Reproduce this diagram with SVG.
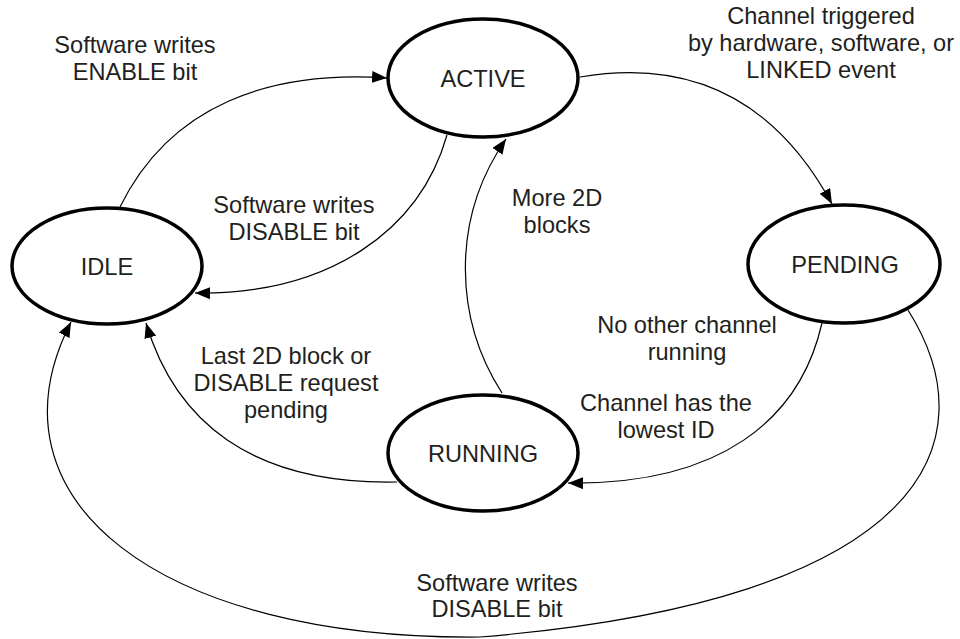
<svg xmlns="http://www.w3.org/2000/svg" width="960" height="639" viewBox="0 0 960 639">
<style>
.node ellipse{fill:#fff;stroke:#000;stroke-width:3.5}
text{font-family:"Liberation Sans",Arial,sans-serif;font-size:23.6px;fill:#231f20;text-anchor:middle}
.edge{fill:none;stroke:#000;stroke-width:1.2;marker-end:url(#arr)}
</style>
<defs>
<marker id="arr" markerUnits="userSpaceOnUse" markerWidth="16" markerHeight="12" refX="15" refY="6" orient="auto" viewBox="0 0 16 12">
<path d="M0,0 L15,6 L0,12 z" fill="#000"/>
</marker>
</defs>
<rect width="960" height="639" fill="#fff"/>
<g id="connectors">
<path class="edge" d="M120,207 C170,105 270,70 387,78"/>
<path class="edge" d="M447,135 C420,230 330,295 195,293"/>
<path class="edge" d="M580,77 C680,60 770,90 832,204"/>
<path class="edge" d="M502,393 C455,320 450,220 506,139"/>
<path class="edge" d="M397,482 C250,485 175,420 146,323"/>
<path class="edge" d="M822,323 C800,420 720,485 568,483"/>
<path class="edge" d="M908,310 C990,440 930,600 480,637 C160,640 -20,500 71,322"/>
</g>
<g id="labels">
<text x="135" y="53">Software writes</text>
<text x="135" y="80">ENABLE bit</text>
<text x="294" y="213">Software writes</text>
<text x="294" y="240">DISABLE bit</text>
<text x="821" y="24">Channel triggered</text>
<text x="821" y="51">by hardware, software, or</text>
<text x="821" y="78">LINKED event</text>
<text x="557" y="206">More 2D</text>
<text x="557" y="233">blocks</text>
<text x="687" y="333">No other channel</text>
<text x="687" y="360">running</text>
<text x="666" y="411">Channel has the</text>
<text x="666" y="438">lowest ID</text>
<text x="286" y="364">Last 2D block or</text>
<text x="286" y="391">DISABLE request</text>
<text x="286" y="418">pending</text>
<text x="497" y="591">Software writes</text>
<text x="497" y="617">DISABLE bit</text>
</g>
<g id="node-active" class="node">
<ellipse cx="483" cy="78" rx="95" ry="59"/>
<text x="483" y="86.5">ACTIVE</text>
</g>
<g id="node-idle" class="node">
<ellipse cx="107" cy="266" rx="95" ry="58"/>
<text x="107" y="274.5">IDLE</text>
</g>
<g id="node-pending" class="node">
<ellipse cx="844" cy="264" rx="96" ry="59"/>
<text x="845" y="272.5">PENDING</text>
</g>
<g id="node-running" class="node">
<ellipse cx="483" cy="453" rx="95" ry="58"/>
<text x="483" y="461.5">RUNNING</text>
</g>
</svg>
